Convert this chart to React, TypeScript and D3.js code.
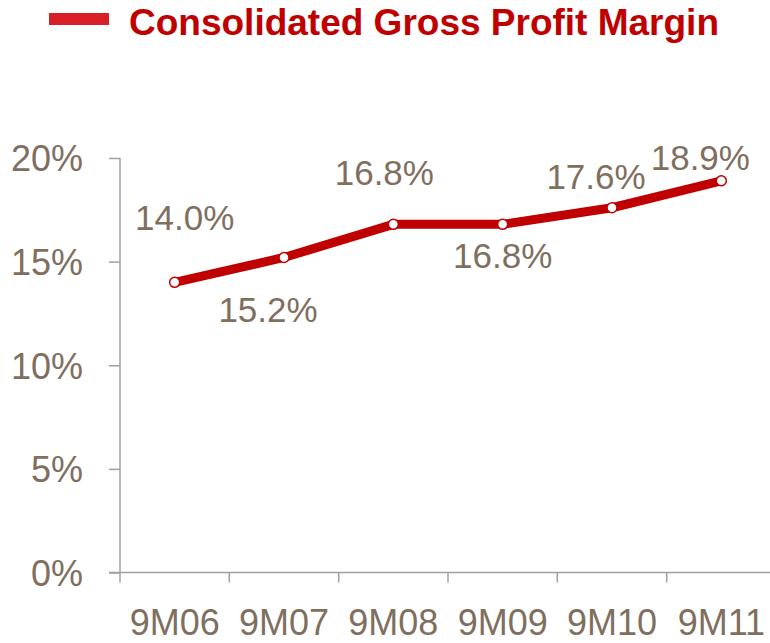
import React, { useEffect, useRef } from "react";
import * as d3 from "d3";

// chart data
const periods = ["9M06", "9M07", "9M08", "9M09", "9M10", "9M11"];
const margins = [14.0, 15.2, 16.8, 16.8, 17.6, 18.9];
const marginLabels = ["14.0%", "15.2%", "16.8%", "16.8%", "17.6%", "18.9%"];
const yTicks = [0, 5, 10, 15, 20];
const seriesName = "Consolidated Gross Profit Margin";

// where each value label sits relative to its point (layout only)
const labelDx = [10, -16, -9, 0, -16, -21];
const labelDy = [-65, 52, -52, 31, -31, -23];

const RED = "#c00000";
const TEXT = "#7f6f5f";
const AXIS = "#a0a0a0";
const FONT = "Liberation Sans, Arial, sans-serif";

function App() {
  const ref = useRef<SVGSVGElement>(null);

  useEffect(() => {
    const svg = d3.select(ref.current);
    svg.selectAll("*").remove();

    const x = d3.scaleBand().domain(periods).range([120, 776]);
    const y = d3.scaleLinear().domain([0, 20]).range([572.5, 158]);

    // legend
    svg.append("rect")
      .attr("x", 49).attr("y", 13)
      .attr("width", 60).attr("height", 12)
      .attr("fill", "#d81e27");
    svg.append("text")
      .attr("x", 129).attr("y", 35)
      .style("font-family", FONT)
      .style("font-size", "37px")
      .style("font-weight", "bold")
      .attr("fill", RED)
      .text(seriesName);

    // y axis
    const yAxis = d3.axisLeft(y)
      .tickValues(yTicks)
      .tickSize(11)
      .tickPadding(26)
      .tickFormat(d => d + "%");
    const gy = svg.append("g")
      .attr("transform", "translate(120,0)")
      .call(yAxis);
    gy.select(".domain").attr("d", "M0,158V572.5").attr("stroke", AXIS).attr("stroke-width", 1.5);
    gy.selectAll(".tick line").attr("stroke", AXIS).attr("stroke-width", 1.5);
    gy.selectAll(".tick text")
      .attr("fill", TEXT)
      .attr("dy", "0.36em")
      .style("font-family", FONT)
      .style("font-size", "36px");

    // x axis with ticks on band boundaries
    const gx = svg.append("g").attr("transform", "translate(0,572.5)");
    gx.append("line")
      .attr("x1", 109).attr("x2", 776)
      .attr("stroke", AXIS).attr("stroke-width", 1.5);
    gx.selectAll(".xt")
      .data(periods)
      .enter().append("line")
      .attr("x1", d => x(d)!).attr("x2", d => x(d)!)
      .attr("y1", 0).attr("y2", 10)
      .attr("stroke", AXIS).attr("stroke-width", 1.5);
    gx.selectAll(".xl")
      .data(periods)
      .enter().append("text")
      .attr("x", d => x(d)! + x.bandwidth() / 2)
      .attr("y", 62)
      .attr("text-anchor", "middle")
      .attr("fill", TEXT)
      .style("font-family", FONT)
      .style("font-size", "36px")
      .text(d => d);

    const cx = (i: number) => x(periods[i])! + x.bandwidth() / 2;

    // line
    const line = d3.line<number>()
      .x((_, i) => cx(i))
      .y(d => y(d));
    svg.append("path")
      .datum(margins)
      .attr("d", line)
      .attr("fill", "none")
      .attr("stroke", RED)
      .attr("stroke-width", 9);

    svg.selectAll(".pt")
      .data(margins)
      .enter().append("circle")
      .attr("cx", (_, i) => cx(i))
      .attr("cy", d => y(d))
      .attr("r", 5)
      .attr("fill", "#fff")
      .attr("stroke", RED)
      .attr("stroke-width", 1.5);

    // value labels
    svg.selectAll(".lbl")
      .data(margins)
      .enter().append("text")
      .attr("x", (_, i) => cx(i) + labelDx[i])
      .attr("y", (d, i) => y(d) + labelDy[i])
      .attr("dy", "0.36em")
      .attr("text-anchor", "middle")
      .attr("fill", TEXT)
      .style("font-family", FONT)
      .style("font-size", "35px")
      .text((_, i) => marginLabels[i]);
  }, []);

  return (
    <svg
      ref={ref}
      width={770}
      height={643}
      style={{ position: "absolute", left: 0, top: 0, background: "#fff" }}
    />
  );
}

export default App;
